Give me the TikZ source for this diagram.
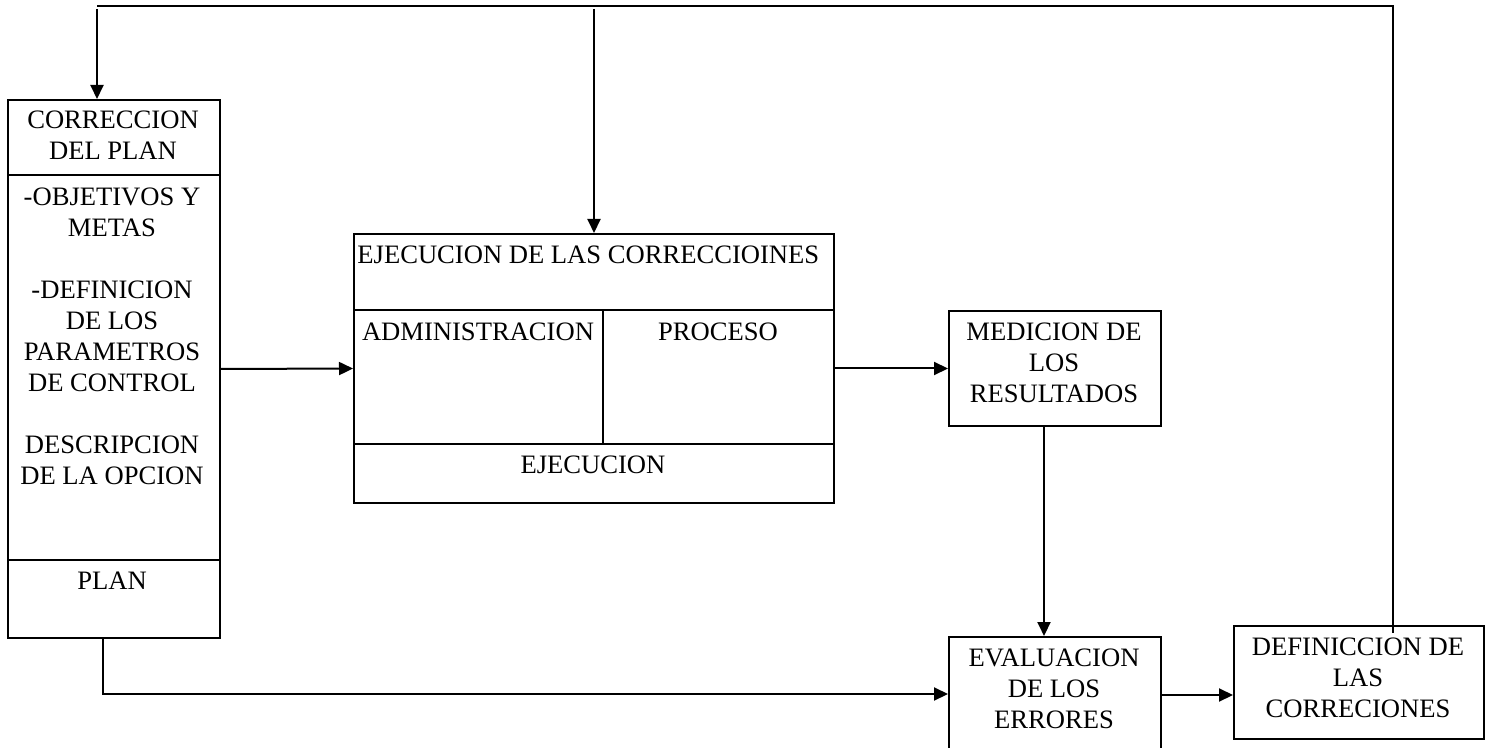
\documentclass[tikz,border=0pt]{standalone}
\usepackage{fontspec}
\setmainfont{Liberation Serif}
\usetikzlibrary{arrows.meta,calc}
\tikzset{
  box/.style={draw, line width=1pt, inner sep=0pt, anchor=north west},
  lbl/.style={font=\fontsize{13.3}{15.5}\selectfont, align=center, inner sep=0pt, anchor=north},
  arr/.style={line width=1pt, -{Triangle[length=7pt,width=6.5pt]}},
  ln/.style={line width=1pt},
  sep/.style={line width=1pt}
}
\begin{document}
\begin{tikzpicture}[x=0.5pt,y=-0.5pt]
\useasboundingbox (0,0) rectangle (1487,748);
\clip (0,0) rectangle (1487,748);
% boxes
\node[box, minimum width=106pt, minimum height=269pt] (L) at (7,99) {};
\node[box, minimum width=240pt, minimum height=134.5pt] (E) at (353,233) {};
\node[box, minimum width=106pt, minimum height=57.5pt] (M) at (948,310) {};
\node[box, minimum width=106pt, minimum height=65pt] (Ev) at (948,636) {};
\node[box, minimum width=125pt, minimum height=56.5pt] (D) at (1233,625) {};
% dividers
\draw[sep] (L.west |- 0,175) -- (L.east |- 0,175);
\draw[sep] (L.west |- 0,560) -- (L.east |- 0,560);
\draw[sep] (E.west |- 0,310) -- (E.east |- 0,310);
\draw[sep] (E.west |- 0,444) -- (E.east |- 0,444);
\draw[sep] (603,310) -- (603,444);
% texts
\node[lbl] (tL1) at (113,110) {CORRECCION\\DEL PLAN};
\node[lbl] (tL2) at (112,187) {-OBJETIVOS Y\\METAS\\[15.5pt]-DEFINICION\\DE LOS\\PARAMETROS\\DE CONTROL\\[15.5pt]DESCRIPCION\\DE LA OPCION};
\node[lbl] (tL3) at (112,572) {PLAN};
\node[lbl, anchor=north west] (tE1) at (357,245) {EJECUCION DE LAS CORRECCIOINES};
\node[lbl] (tE2) at (478,322) {ADMINISTRACION};
\node[lbl] (tE3) at (718,322) {PROCESO};
\node[lbl] (tE4) at (593,455) {EJECUCION};
\node[lbl] (tM) at (1054,322) {MEDICION DE\\LOS\\RESULTADOS};
\node[lbl] (tEv) at (1054,648) {EVALUACION\\DE LOS\\ERRORES};
\node[lbl] (tD) at (1358,637) {DEFINICCION DE\\LAS\\CORRECIONES};
% connectors
\coordinate (t1) at (97,6);
\coordinate (t2) at (594,6);
\coordinate (t3) at (1393,6);
\coordinate (t1b) at (97,9);
\coordinate (t2b) at (594,9);
\draw[ln] (t1) -- (t3) -- ($(t3 |- D.north)+(0,8)$);
\draw[arr] (t1b) -- (t1b |- L.north);
\draw[arr] (t2b) -- (t2b |- E.north);
\draw[arr] (L.east) -- (E.west);
\draw[arr] (E.east) -- (M.west |- E.east);
\draw[arr] (M.south -| 1044,0) -- (Ev.north -| 1044,0);
\draw[arr] (L.south -| 103,0) -- (103,694) -- (Ev.west |- 0,694);
\draw[arr] (Ev.east |- 0,695) -- (D.west |- 0,695);
\end{tikzpicture}
\end{document}
